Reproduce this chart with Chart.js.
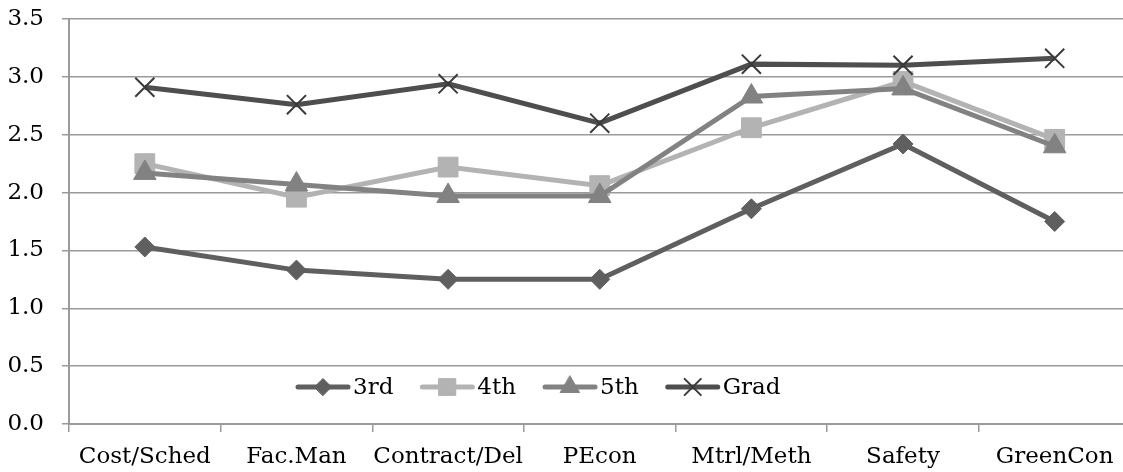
<!DOCTYPE html>
<html>
<head>
<meta charset="utf-8">
<title>Scores by group</title>
<script src="https://cdn.jsdelivr.net/npm/chart.js@4.4.1/dist/chart.umd.min.js"></script>
<style>
  html, body { margin: 0; padding: 0; background: #fff; overflow: hidden; }
  #wrap { position: relative; width: 1146px; height: 472px; }
</style>
</head>
<body>
<div id="wrap"><canvas id="chart"></canvas></div>
<script>
// categories and series
const categories = ['Cost/Sched', 'Fac.Man', 'Contract/Del', 'PEcon', 'Mtrl/Meth', 'Safety', 'GreenCon'];
const third  = [1.53, 1.33, 1.25, 1.25, 1.86, 2.42, 1.75];
const fourth = [2.25, 1.96, 2.22, 2.06, 2.56, 2.96, 2.46];
const fifth  = [2.17, 2.07, 1.97, 1.97, 2.83, 2.90, 2.40];
const grad   = [2.91, 2.76, 2.94, 2.60, 3.11, 3.10, 3.16];

const yMin = 0;
const yMax = 3.5;
const yStep = 0.5;

const FONT = '"DejaVu Serif", "Liberation Serif", serif';
const FONT_SIZE = 23;
const AXIS_GREY = '#9a9a9a';

// Excel-style legend: a short line with the marker on it, drawn inside the plot
const lineLegend = {
  id: 'lineLegend',
  afterDraw(chart) {
    const ctx = chart.ctx;
    const area = chart.chartArea;
    let x = area.left + 226;
    const y = area.bottom - 37;
    ctx.save();
    ctx.font = FONT_SIZE + 'px ' + FONT;
    ctx.textBaseline = 'middle';
    chart.data.datasets.forEach(ds => {
      ctx.strokeStyle = ds.borderColor;
      ctx.lineWidth = ds.borderWidth;
      ctx.lineCap = 'round';
      ctx.beginPath();
      ctx.moveTo(x + 3, y);
      ctx.lineTo(x + 53, y);
      ctx.stroke();

      ctx.fillStyle = ds.pointBackgroundColor;
      ctx.strokeStyle = ds.pointBorderColor;
      ctx.lineWidth = ds.pointBorderWidth;
      Chart.helpers.drawPoint(ctx, {
        pointStyle: ds.pointStyle,
        radius: ds.pointRadius * 0.85,
        borderWidth: ds.pointBorderWidth,
        rotation: 0
      }, x + 28, y);

      ctx.fillStyle = '#000';
      ctx.fillText(ds.label, x + 58, y + 1);
      x += 58 + ctx.measureText(ds.label).width + 26;
    });
    ctx.restore();
  }
};

function series(label, data, color, style, radius, order, extra) {
  return Object.assign({
    label: label,
    data: data,
    borderColor: color,
    backgroundColor: color,
    borderWidth: 5,
    pointStyle: style,
    pointRadius: radius,
    pointHoverRadius: radius,
    pointBackgroundColor: color,
    pointBorderColor: color,
    pointBorderWidth: 1,
    tension: 0,
    order: order
  }, extra || {});
}

new Chart(document.getElementById('chart'), {
  type: 'line',
  data: {
    labels: categories,
    datasets: [
      series('3rd', third, '#5f5f5f', 'rectRot', 10, 4),
      series('4th', fourth, '#b3b3b3', 'rect', 14, 3),
      series('5th', fifth, '#828282', 'triangle', 13, 2),
      series('Grad', grad, '#4e4e4e', 'crossRot', 13.5, 1, { pointBorderColor: '#3a3a3a', pointBorderWidth: 2 })
    ]
  },
  options: {
    responsive: true,
    maintainAspectRatio: false,
    animation: false,
    layout: { padding: { top: 19, right: 0, left: 0, bottom: 0 } },
    plugins: {
      legend: { display: false },
      tooltip: { enabled: false }
    },
    scales: {
      x: {
        offset: true,
        afterFit: s => { s.height = 48; },
        grid: {
          offset: true,
          drawOnChartArea: false,
          drawTicks: true,
          tickLength: 8,
          color: AXIS_GREY,
          lineWidth: 1.5
        },
        border: { display: true, color: AXIS_GREY, width: 2 },
        ticks: {
          color: '#000',
          padding: 11,
          maxRotation: 0,
          autoSkip: false,
          font: { family: FONT, size: FONT_SIZE }
        }
      },
      y: {
        min: yMin,
        max: yMax,
        afterFit: s => { s.width = 69; s.paddingTop = 0; s.paddingBottom = 0; },
        grid: {
          color: AXIS_GREY,
          lineWidth: 1.5,
          tickLength: 7
        },
        border: { display: true, color: AXIS_GREY, width: 2 },
        ticks: {
          stepSize: yStep,
          color: '#000',
          padding: 18,
          font: { family: FONT, size: FONT_SIZE },
          callback: v => Number(v).toFixed(1)
        }
      }
    }
  },
  plugins: [lineLegend]
});
</script>
</body>
</html>
